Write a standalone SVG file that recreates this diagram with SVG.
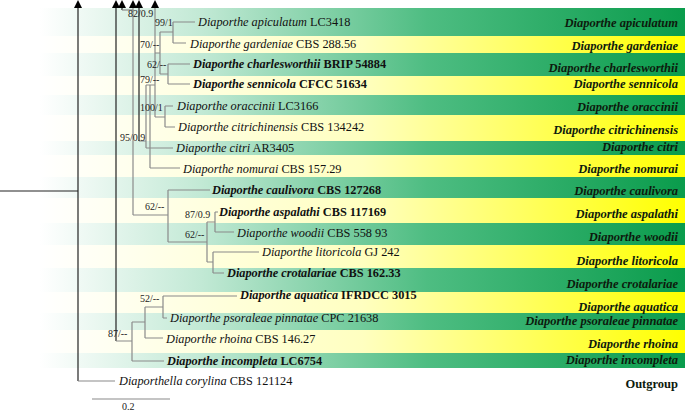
<svg xmlns="http://www.w3.org/2000/svg" width="685" height="412" viewBox="0 0 685 412">
<defs>
<linearGradient id="gG" gradientUnits="userSpaceOnUse" x1="40" y1="0" x2="685" y2="0">
<stop offset="0" stop-color="#ffffff"/><stop offset="0.25" stop-color="#c2e9d5"/><stop offset="0.6" stop-color="#4ebd82"/><stop offset="1" stop-color="#0a9c4c"/>
</linearGradient>
<linearGradient id="gY" gradientUnits="userSpaceOnUse" x1="40" y1="0" x2="685" y2="0">
<stop offset="0" stop-color="#ffffff"/><stop offset="0.5" stop-color="#ffffc0"/><stop offset="1" stop-color="#ffff00"/>
</linearGradient>
<marker id="ar" viewBox="0 0 10 10" refX="0" refY="5" markerWidth="8" markerHeight="8" markerUnits="userSpaceOnUse" orient="auto">
<path d="M0,0 L10,5 L0,10 z" fill="#000"/>
</marker>
<style>
.t{font-family:"Liberation Serif","Times New Roman",serif;font-size:12.3px;fill:#111}
.i{font-style:italic}
.b{font-weight:bold}
.r{font-family:"Liberation Serif","Times New Roman",serif;font-size:12.5px;font-weight:bold;font-style:italic;fill:#0d1a0d;text-anchor:end}
.s{font-family:"Liberation Serif","Times New Roman",serif;font-size:10px;fill:#222}
.l{stroke:#8a8a8a;stroke-width:1.2;fill:none}
.d{stroke:#222;stroke-width:1.2;fill:none}
</style>
</defs>
<g id="bands">
<rect x="40" y="8" width="645" height="28" fill="url(#gG)"/>
<rect x="40" y="36" width="645" height="17" fill="url(#gY)"/>
<rect x="40" y="53" width="645" height="23" fill="url(#gG)"/>
<rect x="40" y="76" width="645" height="19" fill="url(#gY)"/>
<rect x="40" y="95" width="645" height="20" fill="url(#gG)"/>
<rect x="40" y="115" width="645" height="26" fill="url(#gY)"/>
<rect x="40" y="141" width="645" height="14" fill="url(#gG)"/>
<rect x="40" y="155" width="645" height="22" fill="url(#gY)"/>
<rect x="40" y="177" width="645" height="21" fill="url(#gG)"/>
<rect x="40" y="198" width="645" height="25" fill="url(#gY)"/>
<rect x="40" y="223" width="645" height="22" fill="url(#gG)"/>
<rect x="40" y="245" width="645" height="23" fill="url(#gY)"/>
<rect x="40" y="268" width="645" height="24" fill="url(#gG)"/>
<rect x="40" y="292" width="645" height="21" fill="url(#gY)"/>
<rect x="40" y="313" width="645" height="17" fill="url(#gG)"/>
<rect x="40" y="330" width="645" height="23" fill="url(#gY)"/>
<rect x="40" y="353" width="645" height="15" fill="url(#gG)"/>
</g>
<g id="connectors">
<path class="d" d="M0,191 H78"/>
<line class="d" x1="78" y1="381" x2="78" y2="8" marker-end="url(#ar)"/>
<path class="l" d="M78,381 H115"/>
<line class="d" x1="116" y1="341" x2="116" y2="8" marker-end="url(#ar)"/>
<line class="d" x1="122" y1="10" x2="122" y2="8" marker-end="url(#ar)"/>
<path class="l" d="M122,10 H133"/>
<line class="l" x1="133" y1="215" x2="133" y2="8" marker-end="url(#ar)"/>
<line class="d" x1="139" y1="141" x2="139" y2="8" marker-end="url(#ar)"/>
<line class="l" x1="155" y1="117" x2="155" y2="8" marker-end="url(#ar)"/>
<path class="l" d="M173,22 V43 M173,22 H195 M173,43 H186"/>
<path class="l" d="M168,64 V84 M168,64 H190 M168,84 H190"/>
<path class="l" d="M160,32 V74 M160,32 H173 M160,74 H168"/>
<path class="l" d="M165,106 V127 M165,106 H173 M165,127 H175"/>
<path class="l" d="M155,53 H160 M155,117 H165"/>
<path class="l" d="M146,85 V148 M146,85 H155 M146,148 H173 M139,141 H146"/>
<path class="l" d="M150,85 V168 M150,168 H180"/>
<path class="l" d="M133,215 H168 M168,190 V242 M168,190 H210 M168,242 H207"/>
<path class="l" d="M207,222 V262 M207,222 H215 M207,262 H213"/>
<path class="l" d="M215,212 V232 M215,212 H218 M215,232 H234"/>
<path class="l" d="M213,252 V273 M213,252 H259 M213,273 H224"/>
<path class="l" d="M163,296 V318 M163,296 H237 M163,318 H167"/>
<path class="l" d="M145,307 V338 M145,307 H163 M145,338 H163"/>
<path class="l" d="M132,322 V361 M132,322 H145 M132,361 H164 M116,341 H132"/>
<path class="l" d="M92,399 H170"/>
</g>
<g id="supports">
<text class="s" x="128" y="17">82/0.9</text>
<text class="s" x="155" y="26">99/1</text>
<text class="s" x="140" y="48">70/--</text>
<text class="s" x="147" y="68">62/--</text>
<text class="s" x="140" y="83">79/--</text>
<text class="s" x="140" y="111">100/1</text>
<text class="s" x="120" y="141">95/0.9</text>
<text class="s" x="145" y="210">62/--</text>
<text class="s" x="185" y="218">87/0.9</text>
<text class="s" x="185" y="238">62/--</text>
<text class="s" x="140" y="302">52/--</text>
<text class="s" x="108" y="337">87/--</text>
<text class="s" x="122" y="410">0.2</text>
</g>
<g id="tips">
<text id="n1" class="t" x="198" y="26"><tspan class="i">Diaporthe apiculatum</tspan> LC3418</text>
<text id="n2" class="t" x="190" y="48"><tspan class="i">Diaporthe gardeniae</tspan> CBS 288.56</text>
<text id="n3" class="t b" x="193" y="68"><tspan class="i">Diaporthe charlesworthii</tspan> BRIP 54884</text>
<text id="n4" class="t b" x="193" y="88"><tspan class="i">Diaporthe sennicola</tspan> CFCC 51634</text>
<text id="n5" class="t" x="177" y="110"><tspan class="i">Diaporthe oraccinii</tspan> LC3166</text>
<text id="n6" class="t" x="178" y="131"><tspan class="i">Diaporthe citrichinensis</tspan> CBS 134242</text>
<text id="n7" class="t" x="176" y="152"><tspan class="i">Diaporthe citri</tspan> AR3405</text>
<text id="n8" class="t" x="183" y="173"><tspan class="i">Diaporthe nomurai</tspan> CBS 157.29</text>
<text id="n9" class="t b" x="212" y="194"><tspan class="i">Diaporthe caulivora</tspan> CBS 127268</text>
<text id="n10" class="t b" x="219" y="216"><tspan class="i">Diaporthe aspalathi</tspan> CBS 117169</text>
<text id="n11" class="t" x="237" y="237"><tspan class="i">Diaporthe woodii</tspan> CBS 558 93</text>
<text id="n12" class="t" x="262" y="256"><tspan class="i">Diaporthe litoricola</tspan> GJ 242</text>
<text id="n13" class="t b" x="227" y="277"><tspan class="i">Diaporthe crotalariae</tspan> CBS 162.33</text>
<text id="n14" class="t b" x="240" y="299"><tspan class="i">Diaporthe aquatica</tspan> IFRDCC 3015</text>
<text id="n15" class="t" x="170" y="322"><tspan class="i">Diaporthe psoraleae pinnatae</tspan> CPC 21638</text>
<text id="n16" class="t" x="166" y="343"><tspan class="i">Diaporthe rhoina</tspan> CBS 146.27</text>
<text id="n17" class="t b" x="167" y="365"><tspan class="i">Diaporthe incompleta</tspan> LC6754</text>
<text id="n18" class="t" x="119" y="385"><tspan class="i">Diaporthella corylina</tspan> CBS 121124</text>
</g>
<g id="clades">
<text class="r" x="678" y="27">Diaporthe apiculatum</text>
<text class="r" x="678" y="50">Diaporthe gardeniae</text>
<text class="r" x="678" y="72">Diaporthe charlesworthii</text>
<text class="r" x="678" y="88">Diaporthe sennicola</text>
<text class="r" x="678" y="111">Diaporthe oraccinii</text>
<text class="r" x="678" y="134">Diaporthe citrichinensis</text>
<text class="r" x="678" y="151">Diaporthe citri</text>
<text class="r" x="678" y="173">Diaporthe nomurai</text>
<text class="r" x="678" y="195">Diaporthe caulivora</text>
<text class="r" x="678" y="218">Diaporthe aspalathi</text>
<text class="r" x="678" y="241">Diaporthe woodii</text>
<text class="r" x="678" y="265">Diaporthe litoricola</text>
<text class="r" x="678" y="288">Diaporthe crotalariae</text>
<text class="r" x="678" y="311">Diaporthe aquatica</text>
<text class="r" x="678" y="325">Diaporthe psoraleae pinnatae</text>
<text class="r" x="678" y="348">Diaporthe rhoina</text>
<text class="r" x="678" y="364">Diaporthe incompleta</text>
<text class="r" x="678" y="388" style="font-style:normal">Outgroup</text>
</g>
</svg>
